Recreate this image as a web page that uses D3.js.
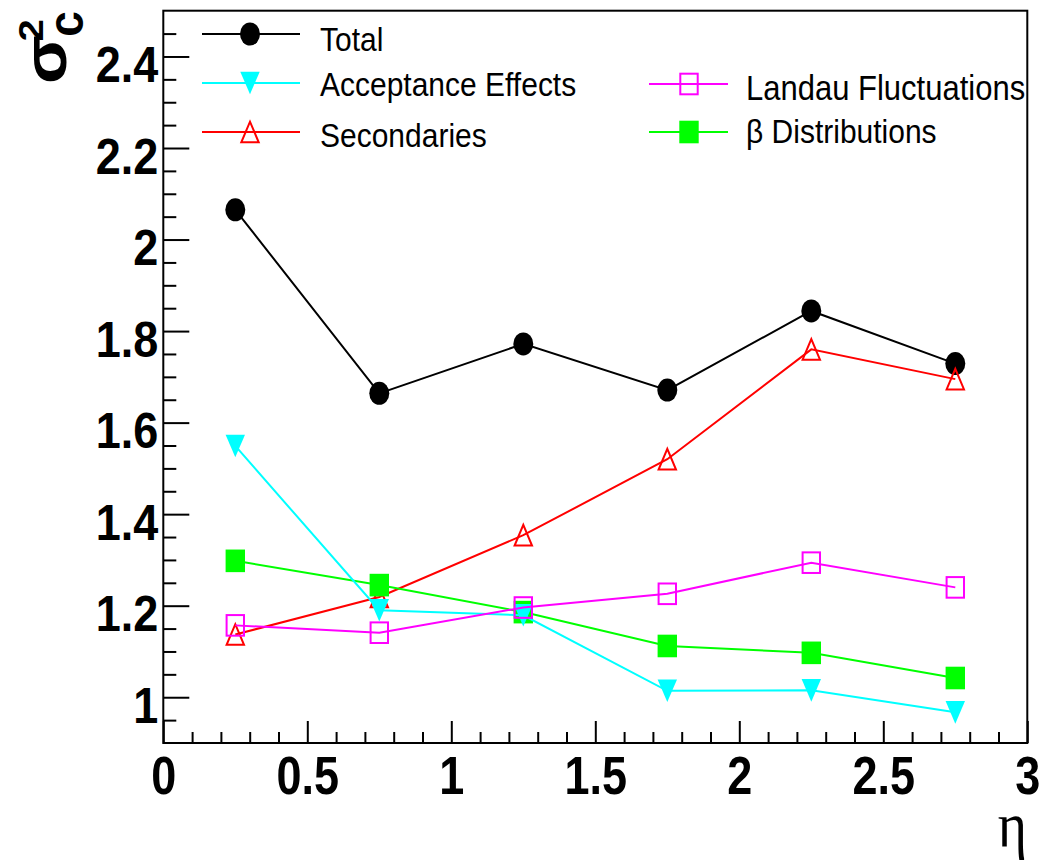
<!DOCTYPE html>
<html>
<head>
<meta charset="utf-8">
<script src="https://cdn.jsdelivr.net/npm/d3@7"></script>
<style>
  html, body { margin: 0; padding: 0; background: #fff; }
  svg { display: block; }
</style>
</head>
<body>
<svg id="chart" width="1049" height="866"></svg>
<script>
// η bin centres and the σ_c² contributions in each bin
const etaBins     = [0.25, 0.75, 1.25, 1.75, 2.25, 2.75];
const total       = [2.065, 1.664, 1.772, 1.671, 1.844, 1.729];
const acceptance  = [1.549, 1.190, 1.179, 1.014, 1.015, 0.967];
const secondaries = [1.137, 1.219, 1.354, 1.520, 1.760, 1.695];
const landau      = [1.157, 1.141, 1.196, 1.226, 1.294, 1.240];
const betaDist    = [1.298, 1.245, 1.186, 1.112, 1.097, 1.042];

const xMajorTicks = [0, 0.5, 1, 1.5, 2, 2.5, 3];
const xTickLabels = ["0", "0.5", "1", "1.5", "2", "2.5", "3"];
const yMajorTicks = [1, 1.2, 1.4, 1.6, 1.8, 2, 2.2, 2.4];
const yTickLabels = ["1", "1.2", "1.4", "1.6", "1.8", "2", "2.2", "2.4"];

const seriesNames = ["Total", "Acceptance Effects", "Secondaries", "Landau Fluctuations", "\u03B2 Distributions"];

const svg = d3.select("#chart");
const frame = { left: 163.3, right: 1027.3, top: 10.7, bottom: 743 };

const x = d3.scaleLinear().domain([0, 3]).range([frame.left, frame.right]);
const y = d3.scaleLinear().domain([0.9, 2.5]).range([frame.bottom, frame.top]);

const SANS = "'Liberation Sans', Arial, Helvetica, sans-serif";
const STRETCH = 1.15; // vertical stretch of glyphs

// ---- axes (ticks point into the frame) ----
const xMinor = d3.range(1, 30).map(i => i / 10).filter(v => Math.abs(v * 2 - Math.round(v * 2)) > 1e-6);
const yMinor = d3.range(19, 50).map(i => i / 20).filter(v => Math.abs(v * 5 - Math.round(v * 5)) > 1e-6);

const gx = svg.append("g").attr("transform", `translate(0,${frame.bottom})`);
gx.append("g").call(d3.axisBottom(x).tickValues(xMinor).tickSize(-11).tickSizeOuter(0).tickFormat(""));
gx.append("g").call(d3.axisBottom(x).tickValues(xMajorTicks).tickSize(-22).tickSizeOuter(0)
  .tickFormat((d, i) => xTickLabels[i]));
gx.selectAll(".domain").remove();
gx.selectAll("line").attr("stroke", "#000").attr("stroke-width", 2);
gx.selectAll("text")
  .attr("y", 0).attr("dy", 0)
  .attr("transform", `translate(0,51) scale(1,1.2)`)
  .style("font-family", SANS).style("font-weight", "bold").style("font-size", "45px")
  .attr("fill", "#000");

const gy = svg.append("g").attr("transform", `translate(${frame.left},0)`);
gy.append("g").call(d3.axisLeft(y).tickValues(yMinor).tickSize(-13).tickSizeOuter(0).tickFormat(""));
gy.append("g").call(d3.axisLeft(y).tickValues(yMajorTicks).tickSize(-26).tickSizeOuter(0)
  .tickFormat((d, i) => yTickLabels[i]));
gy.selectAll(".domain").remove();
gy.selectAll("line").attr("stroke", "#000").attr("stroke-width", 2);
gy.selectAll("text")
  .attr("x", -5).attr("dy", 0)
  .attr("transform", `translate(0,25) scale(1,1.1)`)
  .style("font-family", SANS).style("font-weight", "bold").style("font-size", "45px")
  .attr("fill", "#000");

// ---- frame ----
svg.append("rect")
  .attr("x", frame.left).attr("y", frame.top)
  .attr("width", frame.right - frame.left).attr("height", frame.bottom - frame.top)
  .attr("fill", "none").attr("stroke", "#000").attr("stroke-width", 2);

// ---- marker shapes ----
function drawMarker(g, shape, color, cx, cy) {
  const hw = 9.7, hh = 11.3;
  if (shape === "circle") {
    g.append("ellipse").attr("cx", cx).attr("cy", cy).attr("rx", 10).attr("ry", 11.5).attr("fill", color);
  } else if (shape === "triDown") {
    g.append("path")
      .attr("d", `M${cx - hw},${cy - hh}L${cx + hw},${cy - hh}L${cx},${cy + hh}Z`)
      .attr("fill", color);
  } else if (shape === "triUp") {
    g.append("path")
      .attr("d", `M${cx - hw + 1},${cy + hh - 1}L${cx + hw - 1},${cy + hh - 1}L${cx},${cy - hh + 1}Z`)
      .attr("fill", "none").attr("stroke", color).attr("stroke-width", 2);
  } else if (shape === "openSquare") {
    g.append("rect").attr("x", cx - hw + 1).attr("y", cy - hh + 1)
      .attr("width", 2 * hw - 2).attr("height", 2 * hh - 2)
      .attr("fill", "none").attr("stroke", color).attr("stroke-width", 2);
  } else if (shape === "square") {
    g.append("rect").attr("x", cx - hw).attr("y", cy - hh)
      .attr("width", 2 * hw).attr("height", 2 * hh).attr("fill", color);
  }
}

// ---- series ----
const series = [
  { name: seriesNames[0], values: total,       color: "#000000", shape: "circle" },
  { name: seriesNames[1], values: acceptance,  color: "#00ffff", shape: "triDown" },
  { name: seriesNames[2], values: secondaries, color: "#ff0000", shape: "triUp" },
  { name: seriesNames[3], values: landau,      color: "#ff00ff", shape: "openSquare" },
  { name: seriesNames[4], values: betaDist,    color: "#00ff00", shape: "square" }
];

const line = d3.line().x(d => x(d[0])).y(d => y(d[1]));
const drawOrder = [0, 2, 4, 1, 3];
drawOrder.forEach(k => {
  const s = series[k];
  const pts = etaBins.map((e, i) => [e, s.values[i]]);
  const g = svg.append("g");
  g.append("path").attr("d", line(pts)).attr("fill", "none")
    .attr("stroke", s.color).attr("stroke-width", 2);
  pts.forEach(p => drawMarker(g, s.shape, s.color, x(p[0]), y(p[1])));
});

// ---- legend ----
const legendItems = [
  { k: 0, x1: 202, x2: 300, mx: 250, ly: 34,  tx: 320, ty: 51,  fs: 30 },
  { k: 1, x1: 202, x2: 300, mx: 250, ly: 83,  tx: 320, ty: 96,  fs: 30 },
  { k: 2, x1: 202, x2: 300, mx: 250, ly: 132, tx: 320, ty: 147, fs: 30 },
  { k: 3, x1: 649, x2: 728, mx: 689, ly: 84,  tx: 746, ty: 100, fs: 31 },
  { k: 4, x1: 649, x2: 728, mx: 689, ly: 132, tx: 746, ty: 143, fs: 30 }
];
const gl = svg.append("g");
legendItems.forEach(it => {
  const s = series[it.k];
  gl.append("line").attr("x1", it.x1).attr("x2", it.x2).attr("y1", it.ly).attr("y2", it.ly)
    .attr("stroke", s.color).attr("stroke-width", 2);
  drawMarker(gl, s.shape, s.color, it.mx, it.ly);
  gl.append("text")
    .attr("transform", `translate(${it.tx},${it.ty}) scale(1,1.12)`)
    .style("font-family", SANS).style("font-size", it.fs + "px").attr("fill", "#000")
    .text(s.name);
});

// ---- axis titles ----
svg.append("text")
  .attr("transform", `translate(1027,846) scale(1,${STRETCH})`)
  .attr("text-anchor", "end")
  .style("font-family", "'Liberation Serif', 'Times New Roman', serif")
  .style("font-size", "56px").attr("fill", "#000")
  .text("\u03B7");

const gt = svg.append("g").attr("transform", `translate(66,84) scale(1,${STRETCH}) rotate(-90)`);
gt.append("text").attr("x", 0).attr("y", 0)
  .style("font-family", SANS).style("font-weight", "bold").style("font-size", "62px")
  .attr("fill", "#000").text("\u03C3");
gt.append("text").attr("x", 37).attr("y", -23)
  .style("font-family", SANS).style("font-weight", "bold").style("font-size", "35px")
  .attr("fill", "#000").text("2");
gt.append("text").attr("transform", "translate(41,17) scale(0.8,1)")
  .style("font-family", SANS).style("font-weight", "bold").style("font-size", "50px")
  .attr("fill", "#000").text("c");
</script>
</body>
</html>
